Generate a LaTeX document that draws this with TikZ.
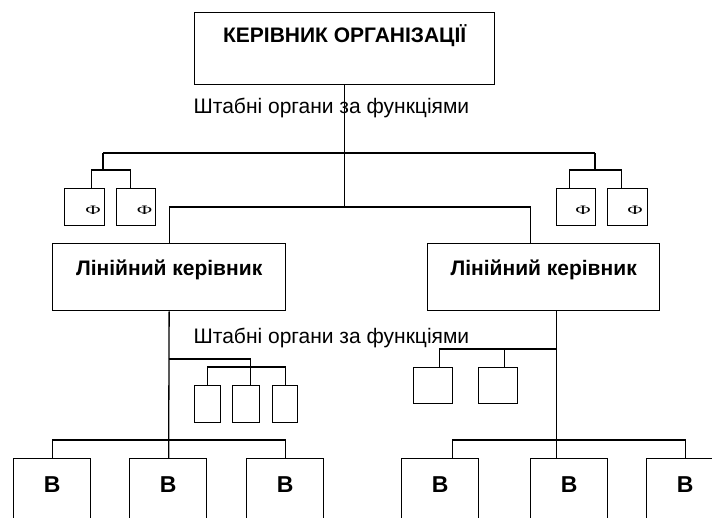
\documentclass[tikz,border=0pt]{standalone}
\usepackage{graphicx}
\usepackage{fontspec}
\setmainfont{Liberation Sans}
\newfontfamily\serifu{Liberation Serif}
\usetikzlibrary{calc}
\newcommand{\fglyph}{\scalebox{1.5}[1]{Ф}}
\begin{document}
\begin{tikzpicture}[x=1pt,y=-1pt,line width=1.3pt,
  box/.style={draw,rectangle,inner sep=0pt,anchor=north west},
  bigbold/.style={font=\bfseries\fontsize{21}{21}\selectfont},
  plain/.style={font=\fontsize{21}{21}\selectfont,inner sep=0pt,anchor=base west},
  fsym/.style={font=\serifu\fontsize{13}{13}\selectfont,inner sep=0pt,anchor=base},
  bbox/.style={box,minimum width=77pt,minimum height=80pt,text height=16.5pt,text depth=28.5pt,font=\bfseries\fontsize{23}{23}\selectfont}]
\useasboundingbox (0,0) rectangle (712,517);
\clip (0,0) rectangle (712,517);

% main boxes
\node[box,bigbold,minimum width=300pt,minimum height=72pt,text height=15pt,text depth=27pt] (top) at (194,12) {КЕРІВНИК ОРГАНІЗАЦІЇ};
\node[box,bigbold,minimum width=233pt,minimum height=67pt,text height=15pt,text depth=18pt] (ll) at (52,243) {Лінійний керівник};
\node[box,bigbold,minimum width=232pt,minimum height=67pt,text height=15pt,text depth=18pt] (rl) at (427,243) {Лінійний керівник};

% labels
\node[plain] (s1) at (193,113) {Штабні органи за функціями};
\node[plain] (s2) at (193,343) {Штабні органи за функціями};

% F boxes
\node[box,minimum width=40pt,minimum height=37pt] (f1) at (64,188) {};
\node[box,minimum width=39pt,minimum height=37pt] (f2) at (116,188) {};
\node[box,minimum width=39pt,minimum height=37pt] (f3) at (556,188) {};
\node[box,minimum width=40pt,minimum height=37pt] (f4) at (607,188) {};
\node[fsym] (p1) at (93,214) {\fglyph};
\node[fsym] (p2) at (144.5,214) {\fglyph};
\node[fsym] (p3) at (583,214) {\fglyph};
\node[fsym] (p4) at (635,214) {\fglyph};

% lower staff boxes
\node[box,minimum width=26pt,minimum height=37pt] (g1) at (194,385) {};
\node[box,minimum width=27pt,minimum height=37pt] (g2) at (232,385) {};
\node[box,minimum width=25pt,minimum height=37pt] (g3) at (272,385) {};
\node[box,minimum width=39pt,minimum height=36pt] (h1) at (413,367) {};
\node[box,minimum width=39pt,minimum height=36pt] (h2) at (478,367) {};

% bottom boxes
\node[bbox] (b1) at (13,458) {В};
\node[bbox] (b2) at (129,458) {В};
\node[bbox] (b3) at (246,458) {В};
\node[bbox] (b4) at (401,458) {В};
\node[bbox] (b5) at (530,458) {В};
\node[bbox] (b6) at (646,458) {В};

% connectors
\coordinate (c1) at (103,153);
\coordinate (c2) at (595,153);
\draw (top.south) -- ++(0,123);
\draw (ll.north) -- ++(0,-36) -| ($(rl.north)+(-13,0)$);
\draw (c1) -- (c2);
\draw (c1) -- ++(0,17);
\draw (c2) -- ++(0,17);
\draw ($(f1.north)+(7,0)$) -- ++(0,-18) -| ($(f2.north)+(-5.5,0)$);
\draw ($(f3.north)+(-7,0)$) -- ++(0,-18) -| ($(f4.north)+(-6,0)$);

\coordinate (k1) at (168.5,359);
\coordinate (k2) at (556,349);
\draw (ll.south) -- ($(b2.north)+(0.5,0)$);
\draw (k1) -| ($(g2.north)+(4.5,0)$);
\draw (g1.north) -- ++(0,-18) -| (g3.north);
\draw (b1.north) -- ++(0,-18) -| (b3.north);

\draw ($(rl.south)+(13,0)$) -- ($(b5.north)+(-12.5,0)$);
\draw (k2) -| ($(h1.north)+(6.5,0)$);
\draw ($(h2.north)+(6.5,0)$) -- ++(0,-18);
\draw ($(b4.north)+(12.5,0)$) -- ++(0,-18) -| (b6.north);
\end{tikzpicture}
\end{document}
